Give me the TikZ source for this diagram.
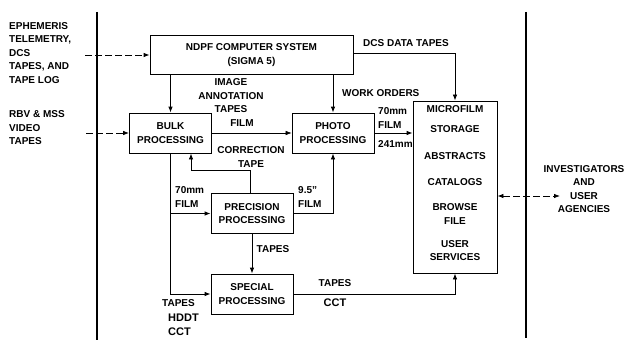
\documentclass[tikz,border=0pt]{standalone}
\usepackage{fontspec}
\setmainfont{Liberation Sans}
\usetikzlibrary{arrows.meta, positioning, calc}

\begin{document}
\begin{tikzpicture}[
        x=1pt, y=-1pt,
        font=\fontsize{10}{13.5}\selectfont\bfseries,
        proc/.style={draw, thick, rectangle, minimum width=82pt, minimum height=40pt, align=center, inner sep=2pt},
        lbl/.style={align=center, inner sep=1pt},
        big/.style={font=\fontsize{11}{13}\selectfont\bfseries},
        arrow/.style={-{Latex[length=6pt, width=4.5pt]}, thick},
        feed/.style={arrow, dash pattern=on 7pt off 3pt},
        divider/.style={line width=1.6pt}
    ]
        \useasboundingbox (0,0) rectangle (628,342);

        % === Boundaries ===
        \draw[divider] (97,12) -- (97,340);
        \draw[divider] (526,12) -- (526,338);

        % === Inputs ===
        \node[lbl, align=left, anchor=west] (ephem) at (8,53)
            {EPHEMERIS\\TELEMETRY,\\DCS\\TAPES, AND\\TAPE LOG};
        \node[lbl, align=left, anchor=west] (video) at (8,128)
            {RBV \& MSS\\VIDEO\\TAPES};
        \coordinate (in1) at (85,55);
        \coordinate (in2) at (86,133);

        % === Processing boxes ===
        \node[proc, minimum width=203pt, minimum height=39pt] (ndpf) at (251.5,55)
            {NDPF COMPUTER SYSTEM\\(SIGMA 5)};
        \node[proc] (bulk)  at (170.5,133) {BULK\\PROCESSING};
        \node[proc] (photo) at (333,133)   {PHOTO\\PROCESSING};
        \node[proc] (prec)  at (252,213.5) {PRECISION\\PROCESSING};
        \node[proc] (spec)  at (252,294)   {SPECIAL\\PROCESSING};
        \node[proc, minimum width=84pt, minimum height=172pt] (micro) at (455,187) {};
        \node[lbl] (archive) at ([yshift=3.5pt]micro.center)
            {MICROFILM\\[6.5pt]STORAGE\\[13.5pt]ABSTRACTS\\[12.5pt]CATALOGS\\[11.5pt]BROWSE\\FILE\\[9.5pt]USER\\SERVICES};

        % === Users ===
        \node[lbl] (users) at (584,189) {INVESTIGATORS\\AND\\USER\\AGENCIES};
        \coordinate (out) at (560,196);

        % === Connectors ===
        \draw[feed] (in1) -- (ndpf.west);
        \draw[feed] (in2) -- (bulk.west);
        \draw[arrow] (bulk.north |- ndpf.south) -- (bulk.north);
        \draw[arrow] (photo.north |- ndpf.south) -- (photo.north);
        \draw[arrow] ([yshift=2pt]ndpf.east) -| (micro.north);
        \draw[arrow, semithick] (bulk.east) -- (photo.west);
        \draw[arrow] (photo.east) -- (micro.west |- photo.east);
        \draw[arrow] ([xshift=-2pt]prec.north) -- ++(0,-23) -| ([xshift=20.5pt]bulk.south);
        \draw[arrow] (prec.east) -| (photo.south);
        \draw[arrow] (bulk.south) |- (spec.west);
        \draw[arrow] (bulk.south |- prec.west) -- (prec.west);
        \draw[arrow] (prec.south) -- (spec.north);
        \draw[arrow] (spec.east) -| (micro.south);
        \draw[feed, {Latex[length=6pt, width=4.5pt]}-{Latex[length=6pt, width=4.5pt]}] ([yshift=-9pt]micro.east) -- (out);

        % === Labels ===
        \node[lbl, anchor=west] (dcs) at (362,43) {DCS DATA TAPES};
        \node[lbl] (annot) at (231,96) {IMAGE\\ANNOTATION\\TAPES};
        \node[lbl] (film1) at (242,123) {FILM};
        \node[lbl, anchor=west] (work) at (341,93) {WORK ORDERS};
        \node[lbl, align=left, anchor=west] (film2) at (377,118) {70mm\\FILM};
        \node[lbl, anchor=west] (wide) at (377,144) {241mm};
        \node[lbl] (corr) at (251,157) {CORRECTION\\TAPE};
        \node[lbl, align=left, anchor=west] (film3) at (174,197) {70mm\\FILM};
        \node[lbl, align=left, anchor=west] (film4) at (297,197) {9.5''\\FILM};
        \node[lbl] (tapes1) at (273,249) {TAPES};
        \node[lbl] (tapes2) at (335,283) {TAPES};
        \node[lbl, big] (cct1) at (335,303) {CCT};
        \node[lbl, anchor=west] (tapes3) at (161,303) {TAPES};
        \node[lbl, big, anchor=west] (hddt) at (167,318) {HDDT};
        \node[lbl, big, anchor=west] (cct2) at (167,332) {CCT};

    \end{tikzpicture}
\end{document}
